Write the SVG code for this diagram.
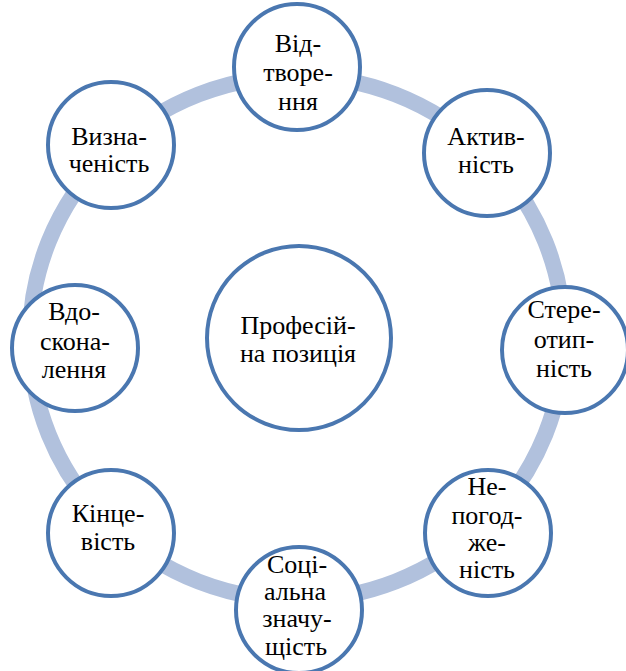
<svg xmlns="http://www.w3.org/2000/svg" width="626" height="671" viewBox="0 0 626 671">
<style>
.ring{fill:none;stroke:#b1c1dd;stroke-width:16}
.node{fill:#ffffff;stroke:#4a77b0;stroke-width:4}
text{font-family:'Liberation Serif','DejaVu Serif',serif;font-size:26px;fill:#000000;text-anchor:middle}
</style>
<rect width="626" height="671" fill="#ffffff"/>
<g id="connectors">
<ellipse class="ring" cx="297" cy="338" rx="267" ry="262"/>
</g>
<g id="center">
<circle class="node" cx="299" cy="338" r="92"/>
<text font-family="Liberation Serif, DejaVu Serif, serif"><tspan x="298" y="334">Професій-</tspan><tspan x="298" y="362">на позиція</tspan></text>
</g>
<g id="n1">
<circle class="node" cx="297" cy="67" r="63"/>
<text font-family="Liberation Serif, DejaVu Serif, serif"><tspan x="298" y="52">Від-</tspan><tspan x="298" y="81">творе-</tspan><tspan x="298" y="110">ння</tspan></text>
</g>
<g id="n2">
<circle class="node" cx="487" cy="153" r="63"/>
<text font-family="Liberation Serif, DejaVu Serif, serif"><tspan x="486" y="145">Актив-</tspan><tspan x="486" y="173">ність</tspan></text>
</g>
<g id="n3">
<circle class="node" cx="565" cy="350" r="63"/>
<text font-family="Liberation Serif, DejaVu Serif, serif"><tspan x="564" y="318">Стере-</tspan><tspan x="564" y="348">отип-</tspan><tspan x="564" y="377">ність</tspan></text>
</g>
<g id="n4">
<circle class="node" cx="488" cy="533" r="63"/>
<text font-family="Liberation Serif, DejaVu Serif, serif"><tspan x="487" y="495">Не-</tspan><tspan x="487" y="524">погод-</tspan><tspan x="487" y="551">же-</tspan><tspan x="487" y="578">ність</tspan></text>
</g>
<g id="n5">
<circle class="node" cx="299" cy="610" r="63"/>
<text font-family="Liberation Serif, DejaVu Serif, serif"><tspan x="297" y="573">Соці-</tspan><tspan x="295" y="600">альна</tspan><tspan x="297" y="627">значу-</tspan><tspan x="296" y="655">щість</tspan></text>
</g>
<g id="n6">
<circle class="node" cx="111" cy="533" r="63"/>
<text font-family="Liberation Serif, DejaVu Serif, serif"><tspan x="108" y="522">Кінце-</tspan><tspan x="108" y="550">вість</tspan></text>
</g>
<g id="n7">
<circle class="node" cx="75" cy="348" r="63"/>
<text font-family="Liberation Serif, DejaVu Serif, serif"><tspan x="74" y="320">Вдо-</tspan><tspan x="75" y="350">скона-</tspan><tspan x="74" y="378">лення</tspan></text>
</g>
<g id="n8">
<circle class="node" cx="111" cy="145" r="63"/>
<text font-family="Liberation Serif, DejaVu Serif, serif"><tspan x="109" y="145">Визна-</tspan><tspan x="109" y="172">ченість</tspan></text>
</g>
</svg>
